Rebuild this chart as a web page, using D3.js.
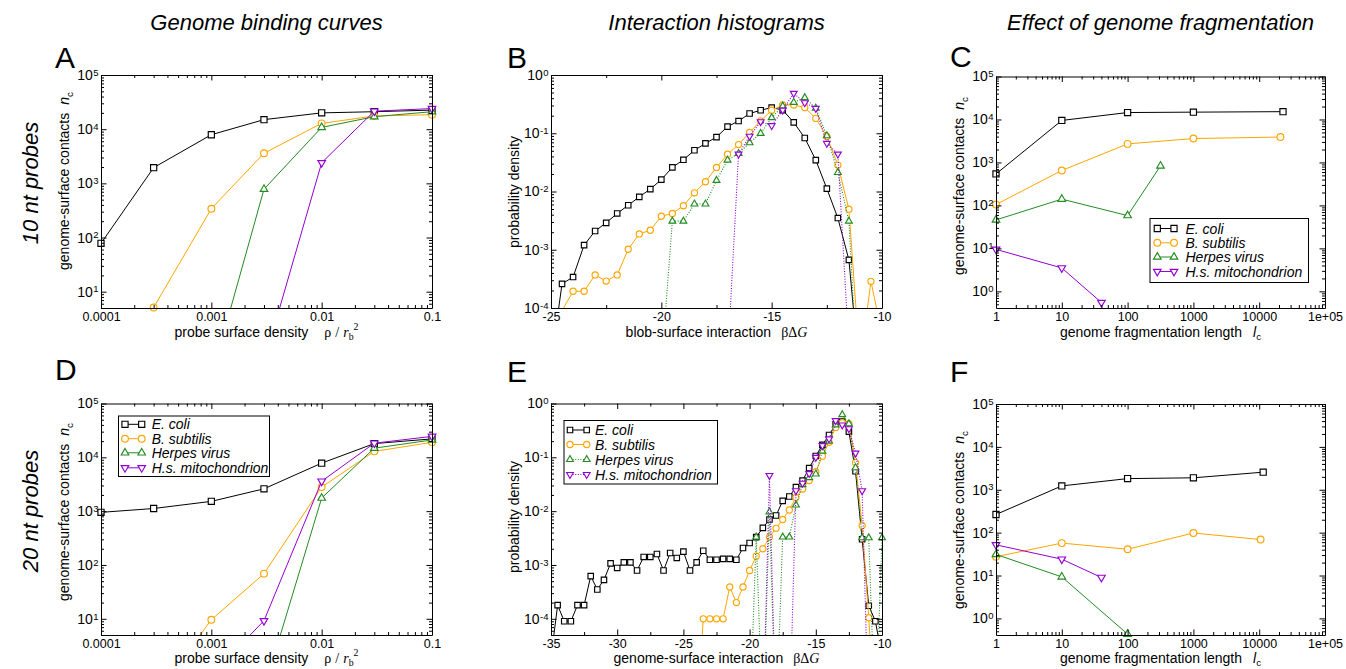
<!DOCTYPE html>
<html>
<head>
<meta charset="utf-8">
<script src="https://cdn.jsdelivr.net/npm/d3@7/dist/d3.min.js"></script>
<style>
  body { margin: 0; background: #fff; }
  svg { display: block; }
</style>
</head>
<body>
<svg id="fig" width="1346" height="669"></svg>
<script>
// ---------- values ----------
const species = ["E. coli", "B. subtilis", "Herpes virus", "H.s. mitochondrion"];

// A / D: genome binding curves (x = probe surface density)
const probeDensity = [0.0001, 0.0003, 0.001, 0.003, 0.01, 0.03, 0.1];
const ecoliA  = [78, 1950, 7900, 15000, 20000, 21000, 22500];
const bsubA   = [null, 5.1, 340, 3600, 12800, 17500, 18500];
const herpesA = [null, null, 0.26, 780, 10800, 17000, 21000];
const mitoA   = [null, null, null, 0.5, 2400, 21500, 24000];
const ecoliD  = [950, 1120, 1520, 2600, 7800, 18000, 22000];
const bsubD   = [null, 0.34, 9.6, 69, 2800, 12900, 19000];
const herpesD = [null, null, null, 0.49, 1750, 14800, 21000];
const mitoD   = [null, null, 0.9, 9.2, 3600, 18300, 24500];

// B: interaction histogram, 10 nt probes
const binsB = [-25, -24.5, -24, -23.5, -23, -22.5, -22, -21.5, -21, -20.5, -20, -19.5, -19, -18.5, -18, -17.5,
  -17, -16.5, -16, -15.5, -15, -14.5, -14, -13.5, -13, -12.5, -12, -11.5, -11, -10.5, -10];
const ecoliB = [1.1e-5, 2.6e-4, 3.4e-4, 1.2e-3, 2.1e-3, 2.9e-3, 4.2e-3, 5.8e-3, 8.1e-3, 0.011, 0.016, 0.026, 0.035,
  0.051, 0.067, 0.086, 0.13, 0.162, 0.218, 0.248, 0.276, 0.25, 0.154, 0.083, 0.0346, 0.0112, 3.5e-3, 6.7e-4, 6e-6, null, null];
const bsubB = [null, 9e-5, 1.94e-4, 1.94e-4, 3.7e-4, 2.9e-4, 3.7e-4, 1.02e-3, 1.87e-3, 2.16e-3, 3.76e-3, 4.2e-3, 5.7e-3,
  9.5e-3, 0.0147, 0.0259, 0.0436, 0.0638, 0.103, 0.163, 0.248, 0.305, 0.305, 0.276, 0.18, 0.088, 0.0284, 4.97e-3, 1.1e-5, 2.87e-4, 3.5e-5];
const herpesB = [null, null, null, null, null, null, null, null, null, null, 1e-5, 3.1e-3, 3.1e-3, 6.1e-3, 6.1e-3, 0.0155,
  0.0346, 0.045, 0.0687, 0.0993, 0.185, 0.293, 0.339, 0.408, 0.27, 0.0906, 0.0212, 3.1e-3, 1e-6, null, null];
const mitoB = [null, null, null, null, null, null, null, null, null, null, null, null, null, null, null, null,
  1.2e-5, 0.044, 0.089, 0.158, 0.135, 0.25, 0.484, 0.334, 0.267, 0.067, 0.044, 2e-5, null, null, null];

// E: interaction histogram, 20 nt probes
const binsE = [-35, -34.5, -34, -33.5, -33, -32.5, -32, -31.5, -31, -30.5, -30, -29.5, -29, -28.5, -28, -27.5, -27,
  -26.5, -26, -25.5, -25, -24.5, -24, -23.5, -23, -22.5, -22, -21.5, -21, -20.5, -20, -19.5, -19, -18.5, -18, -17.5,
  -17, -16.5, -16, -15.5, -15, -14.5, -14, -13.5, -13, -12.5, -12, -11.5, -11, -10.5, -10];
const ecoliE = [1.9e-5, 1.79e-4, 9e-5, 9e-5, 1.79e-4, 1.79e-4, 6.2e-4, 3.5e-4, 5.3e-4, 1.07e-3, 8.8e-4, 1.12e-3, 1.12e-3,
  7.9e-4, 1.41e-3, 1.41e-3, 1.6e-3, 7.9e-4, 1.67e-3, 1.35e-3, 1.77e-3, 7.9e-4, 1.12e-3, 1.84e-3, 1.25e-3, 1.25e-3,
  1.3e-3, 1.3e-3, 1.25e-3, 2.07e-3, 2.56e-3, 3.3e-3, 4.9e-3, 7.0e-3, 8.3e-3, 0.0155, 0.0187, 0.0279, 0.037, 0.063,
  0.106, 0.17, 0.26, 0.41, 0.46, 0.30, 0.055, 3.0e-3, 1.75e-4, 9e-5, 2e-5];
const bsubE = [null, null, null, null, null, null, null, null, null, null, null, null, null, null, null, null, null,
  null, null, null, null, null, 1e-6, 1e-4, 1e-4, 1e-4, 1e-4, 3.9e-4, 2.0e-4, 3.9e-4, 7.9e-4, 1.46e-3, 2.0e-3, 3.3e-3,
  4.8e-3, 7.0e-3, 0.0105, 0.018, 0.0257, 0.037, 0.054, 0.105, 0.19, 0.36, 0.44, 0.42, 0.08, 5.4e-3, 1.05e-4, 1e-6, null];
const herpesE = [null, null, null, null, null, null, null, null, null, null, null, null, null, null, null, null, null,
  null, null, null, null, null, null, null, null, null, null, null, null, null, 1e-6, 3.3e-3, 1e-6, 9.7e-3, 1e-6, 3.3e-3,
  3.3e-3, 0.013, 0.031, 0.042, 0.049, 0.13, 0.2, 0.4, 0.62, 0.42, 0.064, 3.2e-3, 3.2e-3, 1e-6, 3.2e-3];
const mitoE = [null, null, null, null, null, null, null, null, null, null, null, null, null, null, null, null, null,
  null, null, null, null, null, null, null, null, null, null, null, null, null, null, null, 1e-6, 0.046, 1e-6, 1e-6,
  1e-6, 0.024, 0.033, 0.05, 0.1, 0.165, 0.22, 0.48, 0.40, 0.34, 0.12, 0.024, 1e-6, null, null];

// C / F: effect of genome fragmentation (x = fragmentation length)
const fragEcoliC = [1, 10, 100, 1000, 23000];  const ncEcoliC = [540, 9500, 14500, 14800, 15200];
const fragBsubC = [1, 10, 100, 1000, 21000];   const ncBsubC = [105, 650, 2700, 3600, 3900];
const fragHerpesC = [1, 10, 100, 316];         const ncHerpesC = [46, 140, 58, 830];
const fragMitoC = [1, 10, 40];                 const ncMitoC = [9.5, 3.5, 0.55];
const fragEcoliF = [1, 10, 100, 1000, 11500];  const ncEcoliF = [265, 1230, 1820, 1900, 2570];
const fragBsubF = [1, 10, 100, 1000, 10500];   const ncBsubF = [27.5, 57, 41, 98, 69];
const fragHerpesF = [1, 10, 100];              const ncHerpesF = [31, 9.3, 0.43];
const fragMitoF = [1, 10, 40];                 const ncMitoF = [52, 24, 9];

// tick values and labels
const densityTicks = [0.0001, 0.001, 0.01, 0.1];
const densityTickLabels = ["0.0001", "0.001", "0.01", "0.1"];
const fragTicks = [1, 10, 100, 1000, 10000, 100000];
const fragTickLabels = ["1", "10", "100", "1000", "10000", "1e+05"];
const energyTicksB = [-25, -20, -15, -10];
const energyMinorB = [-22.5, -17.5, -12.5];
const energyTicksE = [-35, -30, -25, -20, -15, -10];
const energyMinorE = [-32.5, -27.5, -22.5, -17.5, -12.5];
const contactTicks = [10, 100, 1000, 10000, 100000];
const contactTicksFrag = [1, 10, 100, 1000, 10000, 100000];
const probTicks = [0.0001, 0.001, 0.01, 0.1, 1];

// ---------- drawing ----------
const svg = d3.select("#fig");
const defs = svg.append("defs");
const sans = "'Liberation Sans', Arial, Helvetica, sans-serif";
const serif = "'Liberation Serif', 'Times New Roman', serif";
const colors = ["#000000", "#ffa500", "#228b22", "#9400d3"];
const shapes = [d3.symbolSquare, d3.symbolCircle, d3.symbolTriangle, d3.symbolTriangle];
const flips = [0, 0, 0, 180];
const bigMarks = [38, 36, 25, 25];
const smallMarks = [30, 30, 20, 20];

// plot boxes: [left, right, top, bottom]
const layout = {
    A: [101, 432, 75, 308],
    B: [551, 882, 75, 308],
    C: [996, 1325, 76.5, 308],
    D: [101, 432, 403.5, 635],
    E: [551, 882, 403.5, 635],
    F: [996, 1325, 404, 635]
};

function makePanel(id, xType, xDomain, yDomain) {
    const [x0, x1, y0, y1] = layout[id];
    const x = (xType === "log" ? d3.scaleLog() : d3.scaleLinear()).domain(xDomain).range([x0, x1]);
    const y = d3.scaleLog().domain(yDomain).range([y1, y0]);
    defs.append("clipPath").attr("id", "clip" + id)
        .append("rect").attr("x", x0).attr("y", y0).attr("width", x1 - x0).attr("height", y1 - y0);
    const g = svg.append("g").attr("class", "panel" + id);
    return { id, g, x, y, x0, x1, y0, y1 };
}

function drawSeries(p, xs, ys, k, dotted, marks) {
    const pts = xs.map((v, i) => [v, ys[i]]).filter(d => d[1] != null);
    const line = d3.line().x(d => p.x(d[0])).y(d => p.y(d[1]));
    p.g.append("path")
        .attr("clip-path", "url(#clip" + p.id + ")")
        .attr("d", line(pts))
        .attr("fill", "none")
        .attr("stroke", colors[k])
        .attr("stroke-width", dotted ? 1.1 : 1)
        .attr("stroke-dasharray", dotted ? "1,1.6" : null);
    const [lo, hi] = p.y.domain();
    const sym = d3.symbol().type(shapes[k]).size(marks[k]);
    p.g.selectAll(null)
        .data(pts.filter(d => d[1] >= lo * 0.97 && d[1] <= hi))
        .join("path")
        .attr("transform", d => `translate(${p.x(d[0])},${p.y(d[1])}) rotate(${flips[k]})`)
        .attr("d", sym)
        .attr("fill", "#fff")
        .attr("stroke", colors[k])
        .attr("stroke-width", 1.15);
}

function isDecade(t) {
    const l = Math.log10(t);
    return Math.abs(l - Math.round(l)) < 1e-6;
}

function styleAxis(s) {
    s.attr("font-family", sans).attr("font-size", 12.5);
    s.selectAll("path.domain, line").attr("stroke", "#000").attr("stroke-width", 1);
}

function powerLabel(sel, d) {
    const e = Math.round(Math.log10(d));
    sel.text(null).attr("font-size", 14);
    sel.append("tspan").text("10");
    sel.append("tspan").attr("dy", "-0.45em").attr("dx", 0.5).attr("font-size", 9.5).text(e);
}

function drawFrame(p, xMajor, xLabels, xMinor, yMajor) {
    const yMinor = p.y.ticks().filter(t => !isDecade(t));
    p.g.append("g").attr("transform", `translate(0,${p.y1})`)
        .call(d3.axisBottom(p.x).tickValues(xMajor).tickSize(-5.5).tickSizeOuter(0).tickPadding(4.6)
            .tickFormat((d, i) => xLabels[i]))
        .call(styleAxis);
    p.g.append("g").attr("transform", `translate(0,${p.y1})`)
        .call(d3.axisBottom(p.x).tickValues(xMinor).tickSize(-3).tickSizeOuter(0).tickFormat(""))
        .call(styleAxis).call(s => s.select(".domain").remove());
    p.g.append("g").attr("transform", `translate(0,${p.y0})`)
        .call(d3.axisTop(p.x).tickValues(xMajor).tickSize(-5.5).tickSizeOuter(0).tickFormat(""))
        .call(styleAxis);
    p.g.append("g").attr("transform", `translate(0,${p.y0})`)
        .call(d3.axisTop(p.x).tickValues(xMinor).tickSize(-3).tickSizeOuter(0).tickFormat(""))
        .call(styleAxis).call(s => s.select(".domain").remove());

    p.g.append("g").attr("transform", `translate(${p.x0},0)`)
        .call(d3.axisLeft(p.y).tickValues(yMajor).tickSize(-5.5).tickSizeOuter(0).tickPadding(2.5).tickFormat(""))
        .call(styleAxis)
        .selectAll(".tick text").each(function (d) { powerLabel(d3.select(this), d); });
    p.g.append("g").attr("transform", `translate(${p.x0},0)`)
        .call(d3.axisLeft(p.y).tickValues(yMinor).tickSize(-3).tickSizeOuter(0).tickFormat(""))
        .call(styleAxis).call(s => s.select(".domain").remove());
    p.g.append("g").attr("transform", `translate(${p.x1},0)`)
        .call(d3.axisRight(p.y).tickValues(yMajor).tickSize(-5.5).tickSizeOuter(0).tickFormat(""))
        .call(styleAxis);
    p.g.append("g").attr("transform", `translate(${p.x1},0)`)
        .call(d3.axisRight(p.y).tickValues(yMinor).tickSize(-3).tickSizeOuter(0).tickFormat(""))
        .call(styleAxis).call(s => s.select(".domain").remove());
}

// text with italic / serif / sub / superscript pieces
function rich(sel, parts, size) {
    let shift = 0;
    parts.forEach(q => {
        const target = q.sub ? 0.28 * size : q.sup ? -0.5 * size : 0;
        const t = sel.append("tspan").text(q.t).attr("dy", target - shift);
        shift = target;
        if (q.sub || q.sup) t.attr("font-size", 0.7 * size);
        if (q.it) t.attr("font-style", "italic");
        if (q.serif) t.attr("font-family", serif);
        if (q.dx) t.attr("dx", q.dx);
    });
}

function xTitle(p, parts, yPos) {
    const t = p.g.append("text").attr("x", (p.x0 + p.x1) / 2).attr("y", yPos)
        .attr("text-anchor", "middle").attr("font-family", sans).attr("font-size", 14);
    rich(t, parts, 14);
}

function yTitle(p, parts, cy) {
    const t = p.g.append("text").attr("transform", `translate(${p.x0 - 32},${cy}) rotate(-90)`)
        .attr("text-anchor", "middle").attr("font-family", sans).attr("font-size", 14);
    rich(t, parts, 14);
}

function letter(txt, x, y) {
    svg.append("text").attr("x", x).attr("y", y).attr("font-family", sans).attr("font-size", 30).text(txt);
}

function legend(p, box, rows, sx0, sx1, tx, dotted, marks) {
    p.g.append("rect").attr("x", box[0]).attr("y", box[1])
        .attr("width", box[2] - box[0]).attr("height", box[3] - box[1])
        .attr("fill", "#fff").attr("stroke", "#000").attr("stroke-width", 1);
    species.forEach((name, k) => {
        const yy = rows[k];
        p.g.append("line").attr("x1", sx0).attr("x2", sx1).attr("y1", yy).attr("y2", yy)
            .attr("stroke", colors[k]).attr("stroke-width", 1)
            .attr("stroke-dasharray", dotted[k] ? "1,1.6" : null);
        const sym = d3.symbol().type(shapes[k]).size(marks[k]);
        [sx0, sx1].forEach(xx => {
            p.g.append("path").attr("transform", `translate(${xx},${yy}) rotate(${flips[k]})`)
                .attr("d", sym).attr("fill", "#fff").attr("stroke", colors[k]).attr("stroke-width", 1.15);
        });
        p.g.append("text").attr("x", tx).attr("y", yy + 5)
            .attr("font-family", sans).attr("font-size", 14).attr("font-style", "italic").text(name);
    });
}

const contactsLabel = [{ t: "genome-surface contacts" }, { t: "n", it: true, dx: 8 }, { t: "c", sub: true }];
const densityLabel = [{ t: "probe surface density" }, { t: "\u03c1", serif: true, dx: 16 }, { t: "/", serif: true, dx: 4 },
    { t: "r", serif: true, it: true, dx: 4 }, { t: "b", serif: true, sub: true }, { t: "2", serif: true, sup: true }];
const fragLabel = [{ t: "genome fragmentation length" }, { t: "l", it: true, dx: 11 }, { t: "c", sub: true }];
const probLabel = [{ t: "probability density" }];
const blobLabel = [{ t: "blob-surface interaction" }, { t: "\u03b2\u0394", serif: true, dx: 10 }, { t: "G", serif: true, it: true }];
const genomeIntLabel = [{ t: "genome-surface interaction" }, { t: "\u03b2\u0394", serif: true, dx: 10 }, { t: "G", serif: true, it: true }];

// ---- panel A ----
const pA = makePanel("A", "log", [0.0001, 0.1], [5, 1e5]);
[ecoliA, bsubA, herpesA, mitoA].forEach((ys, k) => drawSeries(pA, probeDensity, ys, k, false, bigMarks));
drawFrame(pA, densityTicks, densityTickLabels, pA.x.ticks().filter(t => !isDecade(t)), contactTicks);
xTitle(pA, densityLabel, 336.5);
yTitle(pA, contactsLabel, 181);

// ---- panel B ----
const pB = makePanel("B", "linear", [-25, -10], [1e-4, 1]);
[ecoliB, bsubB, herpesB, mitoB].forEach((ys, k) => drawSeries(pB, binsB, ys, k, k >= 2, smallMarks));
drawFrame(pB, energyTicksB, energyTicksB.map(String), energyMinorB, probTicks);
xTitle(pB, blobLabel, 336.5);
yTitle(pB, probLabel, 192);

// ---- panel C ----
const pC = makePanel("C", "log", [1, 1e5], [0.41, 1e5]);
drawSeries(pC, fragEcoliC, ncEcoliC, 0, false, bigMarks);
drawSeries(pC, fragBsubC, ncBsubC, 1, false, bigMarks);
drawSeries(pC, fragHerpesC, ncHerpesC, 2, false, bigMarks);
drawSeries(pC, fragMitoC, ncMitoC, 3, false, bigMarks);
drawFrame(pC, fragTicks, fragTickLabels, pC.x.ticks().filter(t => !isDecade(t)), contactTicksFrag);
xTitle(pC, fragLabel, 336.5);
yTitle(pC, contactsLabel, 186);
legend(pC, [1150, 218.5, 1308.5, 282.5], [228.5, 242.8, 257, 271.5], 1157.3, 1174, 1185.5,
    [false, false, false, false], bigMarks);

// ---- panel D ----
const pD = makePanel("D", "log", [0.0001, 0.1], [5, 1e5]);
[ecoliD, bsubD, herpesD, mitoD].forEach((ys, k) => drawSeries(pD, probeDensity, ys, k, false, bigMarks));
drawFrame(pD, densityTicks, densityTickLabels, pD.x.ticks().filter(t => !isDecade(t)), contactTicks);
xTitle(pD, densityLabel, 662.5);
yTitle(pD, contactsLabel, 512);
legend(pD, [118.5, 416, 269.5, 476.5], [424.3, 438.7, 452.8, 467.8], 125, 141.7, 151.7,
    [false, false, false, false], bigMarks);

// ---- panel E ----
const pE = makePanel("E", "linear", [-35, -10], [5e-5, 1]);
[ecoliE, bsubE, herpesE, mitoE].forEach((ys, k) => drawSeries(pE, binsE, ys, k, k >= 2, smallMarks));
drawFrame(pE, energyTicksE, energyTicksE.map(String), energyMinorE, probTicks);
xTitle(pE, genomeIntLabel, 662.5);
yTitle(pE, probLabel, 517);
legend(pE, [564, 420.5, 717.5, 484], [430, 444.5, 459.5, 474.5], 570, 586.7, 595,
    [false, false, true, true], smallMarks);

// ---- panel F ----
const pF = makePanel("F", "log", [1, 1e5], [0.41, 1e5]);
drawSeries(pF, fragEcoliF, ncEcoliF, 0, false, bigMarks);
drawSeries(pF, fragBsubF, ncBsubF, 1, false, bigMarks);
drawSeries(pF, fragHerpesF, ncHerpesF, 2, false, bigMarks);
drawSeries(pF, fragMitoF, ncMitoF, 3, false, bigMarks);
drawFrame(pF, fragTicks, fragTickLabels, pF.x.ticks().filter(t => !isDecade(t)), contactTicksFrag);
xTitle(pF, fragLabel, 662.5);
yTitle(pF, contactsLabel, 520);

// ---- letters, column and row titles ----
letter("A", 55, 68); letter("B", 507, 68); letter("C", 950, 67);
letter("D", 55, 380); letter("E", 507, 382); letter("F", 950, 382);

const columnTitles = ["Genome binding curves", "Interaction histograms", "Effect of genome fragmentation"];
[pA, pB, pC].forEach((p, i) => {
    svg.append("text").attr("x", (p.x0 + p.x1) / 2).attr("y", 29.5).attr("text-anchor", "middle")
        .attr("font-family", sans).attr("font-size", 22).attr("font-style", "italic").text(columnTitles[i]);
});
const rowTitles = ["10 nt probes", "20 nt probes"];
[183, 511].forEach((cy, i) => {
    svg.append("text").attr("transform", `translate(38,${cy}) rotate(-90)`).attr("text-anchor", "middle")
        .attr("font-family", sans).attr("font-size", 22).attr("font-style", "italic").text(rowTitles[i]);
});
</script>
</body>
</html>
